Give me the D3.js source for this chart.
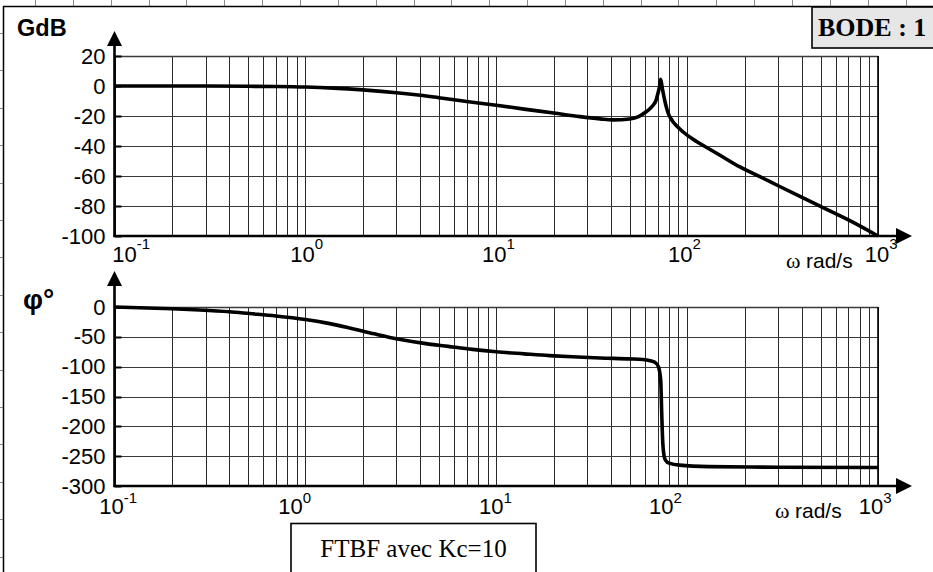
<!DOCTYPE html>
<html>
<head>
<meta charset="utf-8">
<script src="https://cdn.jsdelivr.net/npm/d3@7/dist/d3.min.js"></script>
<style>
    body { margin: 0; background: #fff; }
    svg { display: block; }
    .sans { font-family: "Liberation Sans", Arial, sans-serif; fill: #000; }
    .serif { font-family: "Liberation Serif", "Times New Roman", serif; fill: #000; }
</style>
</head>
<body>
<div id="bode"></div>
<script>
// values (Kc = 10)
var gainOmega = [0.1, 0.2, 0.3, 0.5, 0.7, 1, 1.4, 2, 2.5, 3, 4, 5, 7, 10, 14, 20, 27.4, 35, 41, 50, 56, 61, 64, 66.2, 68.5, 70.3, 71.8, 72.7, 74, 75.3, 76.3, 78, 79.5, 82, 84.5, 91, 100, 112, 130, 148, 188, 250, 300, 400, 500, 700, 1000];
var gainDb = [0, 0, -0.05, -0.2, -0.35, -0.7, -1.4, -2.6, -3.6, -4.5, -6.2, -7.8, -10.3, -12.8, -15.4, -18, -20.4, -21.9, -22.6, -22, -20.2, -17.2, -15, -13, -10, -5, 0, 4.5, -1, -6, -9.5, -14.5, -18, -21.5, -24, -28.3, -32.8, -37, -41.8, -46, -53.8, -61.5, -66.5, -74.3, -80.3, -89.3, -100];

var phaseOmega = [0.1, 0.2, 0.28, 0.4, 0.51, 0.7, 1, 1.3, 1.7, 2.3, 3.1, 4.2, 5.6, 7.5, 10, 14, 19, 25, 35, 50, 58.5, 64, 68, 70.7, 72.7, 73.6, 74.6, 76.3, 78.5, 81.2, 91, 130, 300, 1000];
var phaseDeg = [0, -3, -5, -8, -11, -15, -21, -27, -35, -45, -54, -61, -66, -71, -75, -78.5, -81.5, -83.5, -85.5, -87, -88, -90, -93, -100, -122, -178, -229, -254, -260, -262, -265, -267.5, -268.5, -269];

var gainTicks = [20, 0, -20, -40, -60, -80, -100];
var phaseTicks = [0, -50, -100, -150, -200, -250, -300];
var decadeExp = [-1, 0, 1, 2, 3];

// layout
var width = 933;
var height = 572;
var left = 114.5;
var right = 878;

// nudges of the "10^n" labels, as they sit in the original sheet
var topLabelDx = [10, -3, -2, -7, -1];
var bottomLabelDx = [-3, -15, -5, -26, -7];

var svg = d3.select('#bode').append('svg')
    .attr('width', width)
    .attr('height', height);

// spreadsheet cells showing around the frame
var sheet = svg.append('g').attr('stroke', '#8c8c8c').attr('stroke-width', 1);
d3.range(0, 24).forEach(function (i) {
    var cx = Math.round(35 + i * 37.85) + 0.5;
    sheet.append('line').attr('x1', cx).attr('x2', cx).attr('y1', 0).attr('y2', 7);
});
d3.range(0, 15).forEach(function (i) {
    var cy = Math.round(33 + i * 37.4) + 0.5;
    sheet.append('line').attr('x1', 0).attr('x2', 4).attr('y1', cy).attr('y2', cy);
});

// outer frame
svg.append('rect')
    .attr('x', 3.5).attr('y', 6.5)
    .attr('width', 950).attr('height', 600)
    .attr('fill', '#fff')
    .attr('stroke', '#000')
    .attr('stroke-width', 1.5);

var x = d3.scaleLog().domain([0.1, 1000]).range([left, right]);
var yGain = d3.scaleLinear().domain([-100, 20]).range([236, 56]);
var yPhase = d3.scaleLinear().domain([-300, 0]).range([486, 307]);

function arrowUp(g, cx, tip) {
    g.append('path')
        .attr('d', 'M' + cx + ',' + tip + 'L' + (cx - 7.5) + ',' + (tip + 15) + 'L' + (cx + 7.5) + ',' + (tip + 15) + 'Z')
        .attr('fill', '#000');
}

function arrowRight(g, tip, cy) {
    g.append('path')
        .attr('d', 'M' + tip + ',' + cy + 'L' + (tip - 16) + ',' + (cy - 8) + 'L' + (tip - 16) + ',' + (cy + 8) + 'Z')
        .attr('fill', '#000');
}

// one panel of the Bode sheet
function panel(y, ticks, omega, values, arrowTip, labelY, supDy, labelDx, unitX, unitY) {
    var g = svg.append('g');
    var y0 = y.range()[0];
    var y1 = y.range()[1];

    // vertical log grid
    g.selectAll('.vgrid')
        .data(x.ticks())
        .enter().append('line')
        .attr('class', 'vgrid')
        .attr('x1', function (d) { return Math.round(x(d)) + 0.5; })
        .attr('x2', function (d) { return Math.round(x(d)) + 0.5; })
        .attr('y1', y1)
        .attr('y2', y0)
        .attr('stroke', '#2a2a2a')
        .attr('stroke-width', 1);

    // horizontal grid
    g.selectAll('.hgrid')
        .data(ticks)
        .enter().append('line')
        .attr('class', 'hgrid')
        .attr('x1', left)
        .attr('x2', right)
        .attr('y1', function (d) { return Math.round(y(d)) + 0.5; })
        .attr('y2', function (d) { return Math.round(y(d)) + 0.5; })
        .attr('stroke', '#3a3a3a')
        .attr('stroke-width', function (d, i) { return i === 0 ? 1.6 : 1; });

    // right border
    g.append('line')
        .attr('x1', right).attr('x2', right)
        .attr('y1', y1).attr('y2', y0)
        .attr('stroke', '#000').attr('stroke-width', 1.6);

    // short inner ticks on the vertical axis
    g.selectAll('.ytick')
        .data(ticks)
        .enter().append('line')
        .attr('x1', left).attr('x2', left + 7)
        .attr('y1', function (d) { return Math.round(y(d)) + 0.5; })
        .attr('y2', function (d) { return Math.round(y(d)) + 0.5; })
        .attr('stroke', '#000').attr('stroke-width', 2);

    // curve
    var pts = omega.map(function (w, i) { return { w: w, v: values[i] }; });
    var line = d3.line()
        .x(function (d) { return x(d.w); })
        .y(function (d) { return y(d.v); })
        .curve(d3.curveMonotoneX);
    g.append('path')
        .datum(pts)
        .attr('d', line)
        .attr('fill', 'none')
        .attr('stroke', '#000')
        .attr('stroke-width', 3.6)
        .attr('stroke-linejoin', 'round');

    // axes with arrows
    g.append('line')
        .attr('x1', left).attr('x2', left)
        .attr('y1', y0 + 1).attr('y2', arrowTip + 14)
        .attr('stroke', '#000').attr('stroke-width', 2.6);
    arrowUp(g, left, arrowTip);
    g.append('line')
        .attr('x1', left - 1).attr('x2', 896)
        .attr('y1', y0).attr('y2', y0)
        .attr('stroke', '#000').attr('stroke-width', 2.4);
    arrowRight(g, 912, y0);

    // value labels
    var yAxis = d3.axisLeft(y)
        .tickValues(ticks)
        .tickSize(0)
        .tickPadding(9)
        .tickFormat(function (d) { return String(d); });
    var ya = g.append('g')
        .attr('transform', 'translate(' + left + ',0)')
        .call(yAxis);
    ya.select('.domain').remove();
    ya.selectAll('text')
        .attr('class', 'sans')
        .style('font-size', '22px')
        .style('font-family', '"Liberation Sans", Arial, sans-serif')
        .attr('fill', '#000');

    // decade labels 10^n
    var dl = g.selectAll('.dec')
        .data(decadeExp)
        .enter().append('text')
        .attr('class', 'sans')
        .attr('x', function (d, i) { return x(Math.pow(10, d)) + labelDx[i] - 12.2; })
        .attr('y', labelY)
        .style('font-size', '22px');
    dl.append('tspan').text('10');
    dl.append('tspan')
        .attr('dy', supDy)
        .style('font-size', '15px')
        .text(function (d) { return d; });

    // unit
    var u = g.append('text')
        .attr('x', unitX)
        .attr('y', unitY)
        .style('font-size', '21px');
    u.append('tspan').attr('class', 'serif').style('font-size', '22px').text('ω ');
    u.append('tspan').attr('class', 'sans').text('rad/s');

    return g;
}

panel(yGain, gainTicks, gainOmega, gainDb, 31, 262, -13, topLabelDx, 786, 268);
panel(yPhase, phaseTicks, phaseOmega, phaseDeg, 271, 514, -11, bottomLabelDx, 775, 518);

// axis titles
svg.append('text')
    .attr('class', 'sans')
    .attr('x', 17).attr('y', 35.5)
    .style('font-size', '23.5px')
    .style('font-weight', 'bold')
    .text('GdB');

svg.append('text')
    .attr('class', 'sans')
    .attr('x', 23).attr('y', 309)
    .style('font-size', '28px')
    .style('font-weight', 'bold')
    .text('φ°');

// title box
svg.append('rect')
    .attr('x', 812).attr('y', 7)
    .attr('width', 140).attr('height', 41)
    .attr('fill', '#e6e6e6')
    .attr('stroke', '#000')
    .attr('stroke-width', 1.6);
svg.append('text')
    .attr('class', 'serif')
    .attr('x', 818).attr('y', 36)
    .style('font-size', '26px')
    .style('font-weight', 'bold')
    .text('BODE : 1');

// caption box
svg.append('rect')
    .attr('x', 291).attr('y', 523.5)
    .attr('width', 245).attr('height', 60)
    .attr('fill', '#fff')
    .attr('stroke', '#000')
    .attr('stroke-width', 1.6);
svg.append('text')
    .attr('class', 'serif')
    .attr('x', 413.5).attr('y', 557)
    .attr('text-anchor', 'middle')
    .style('font-size', '25px')
    .text('FTBF avec Kc=10');
</script>
</body>
</html>
